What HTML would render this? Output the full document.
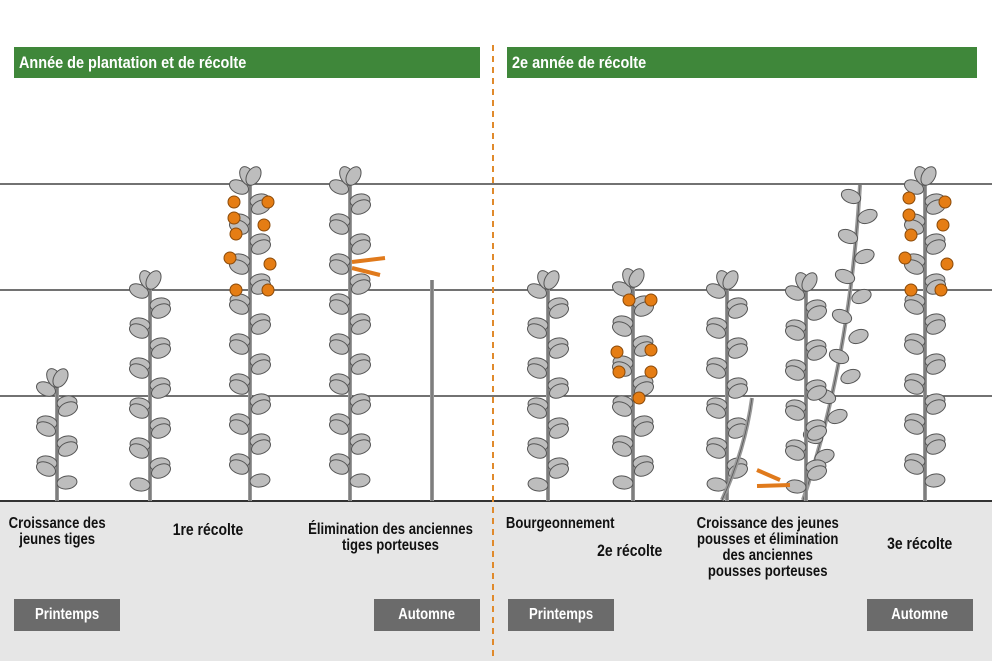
<!DOCTYPE html>
<html><head><meta charset="utf-8"><style>
body{margin:0;width:992px;height:661px;overflow:hidden;background:#fff;font-family:"Liberation Sans",sans-serif;position:relative}
.hd{position:absolute;top:47px;height:31px;background:#3f873a;color:#fff;font-weight:bold;font-size:17px;line-height:31px;padding-left:5px;box-sizing:border-box;white-space:nowrap}
.hd span{display:inline-block;transform:scaleX(.85);transform-origin:left}
.btn{position:absolute;top:599px;height:32px;background:#6b6b6b;color:#fff;font-weight:bold;font-size:16px;line-height:32px;text-align:center;width:106px}
.btn span,.lb span{display:inline-block;transform:scaleX(.82);transform-origin:center}
.lb{position:absolute;font-weight:bold;font-size:16px;line-height:16px;color:#111;text-align:center;white-space:nowrap}
</style></head><body>
<div style="position:absolute;left:0;top:501px;width:992px;height:160px;background:#e6e6e6"></div>
<svg id="s" width="992" height="661" style="position:absolute;left:0;top:0">
<line x1="0" y1="184" x2="992" y2="184" stroke="#444" stroke-width="1.5"/>
<line x1="0" y1="290" x2="992" y2="290" stroke="#444" stroke-width="1.5"/>
<line x1="0" y1="396" x2="992" y2="396" stroke="#444" stroke-width="1.5"/>
<line x1="0" y1="501" x2="992" y2="501" stroke="#333" stroke-width="2"/>
<line x1="493" y1="45" x2="493" y2="661" stroke="#e08a2c" stroke-width="2" stroke-dasharray="6,5"/>
<g id="p"></g>
</svg>
<div class="hd" style="left:14px;width:466px"><span>Année de plantation et de récolte</span></div>
<div class="hd" style="left:507px;width:470px"><span>2e année de récolte</span></div>
<div class="lb" style="left:-10px;top:516px;width:135px"><span>Croissance des<br>jeunes tiges</span></div>
<div class="lb" style="left:150px;top:522px;width:115px;font-size:17px"><span>1re récolte</span></div>
<div class="lb" style="left:280px;top:522px;width:220px"><span>Élimination des anciennes<br>tiges porteuses</span></div>
<div class="lb" style="left:480px;top:516px;width:160px"><span>Bourgeonnement</span></div>
<div class="lb" style="left:580px;top:543px;width:100px;font-size:17px"><span>2e récolte</span></div>
<div class="lb" style="left:670px;top:516px;width:195px"><span>Croissance des jeunes<br>pousses et élimination<br>des anciennes<br>pousses porteuses</span></div>
<div class="lb" style="left:870px;top:536px;width:100px;font-size:17px"><span>3e récolte</span></div>
<div class="btn" style="left:14px"><span>Printemps</span></div>
<div class="btn" style="left:374px"><span>Automne</span></div>
<div class="btn" style="left:508px"><span>Printemps</span></div>
<div class="btn" style="left:867px"><span>Automne</span></div>
<script>
var g=document.getElementById('p'),h='';
function leaf(x,y,dx,dy){var a=Math.atan2(dy,dx)*180/Math.PI;
h+='<ellipse cx="'+(x+dx/2)+'" cy="'+(y+dy/2)+'" rx="10" ry="6.5" transform="rotate('+a+' '+(x+dx/2)+' '+(y+dy/2)+')" fill="#bdbdbd" stroke="#555" stroke-width="1"/>';}
function plant(x,top,fruit){
h+='<line x1="'+x+'" y1="501" x2="'+x+'" y2="'+top+'" stroke="#999" stroke-width="4"/><line x1="'+x+'" y1="501" x2="'+x+'" y2="'+top+'" stroke="#555" stroke-width="0.8"/>';
var i=0;for(var y=top+16;y<485;y+=20){var s=(i%2?1:-1);leaf(x,y,s*22,-10);leaf(x,y+10,-s*20,-3);i++;}
leaf(x,top+6,-6,-12);leaf(x,top+6,7,-12);
if(fruit)for(var k=0;k<fruit.length;k++){var f=fruit[k];h+='<circle cx="'+(x+f[0])+'" cy="'+f[1]+'" r="6" fill="#e57d14" stroke="#8a4a0a" stroke-width="1"/>';}
}
function bare(x1,y1,x2,y2,q){h+='<path d="M'+x1+' '+y1+' Q'+q+' '+x2+' '+y2+'" stroke="#999" stroke-width="4" fill="none"/><path d="M'+x1+' '+y1+' Q'+q+' '+x2+' '+y2+'" stroke="#555" stroke-width="0.8" fill="none"/>';}
plant(57,378);plant(150,280);
plant(250,176,[[-16,202],[18,202],[-16,218],[14,225],[-14,234],[-20,258],[20,264],[-14,290],[18,290]]);
plant(350,176);
bare(432,501,432,280,'432 390');
plant(548,280);
plant(633,278,[[-4,300],[18,300],[-16,352],[18,350],[-14,372],[18,372],[6,398]]);
plant(727,280);bare(722,500,752,398,'745 450');
bare(803,500,860,185,'850 360');
for(var t=0;t<14;t++){var yy=200+t*20,xx=860-t*1.5-(t>8?(t-8)*5:0);leaf(xx,yy,(t%2?1:-1)*18,-7);}
plant(806,282);
plant(925,176,[[-16,198],[20,202],[-16,215],[18,225],[-14,235],[-20,258],[22,264],[-14,290],[16,290]]);
h+='<path d="M352 262 L385 258 M352 268 L380 275" stroke="#e07a1c" stroke-width="4"/><path d="M757 470 L780 480 M757 486 L790 485" stroke="#e07a1c" stroke-width="4"/>';
g.innerHTML=h;
</script>
</body></html>
